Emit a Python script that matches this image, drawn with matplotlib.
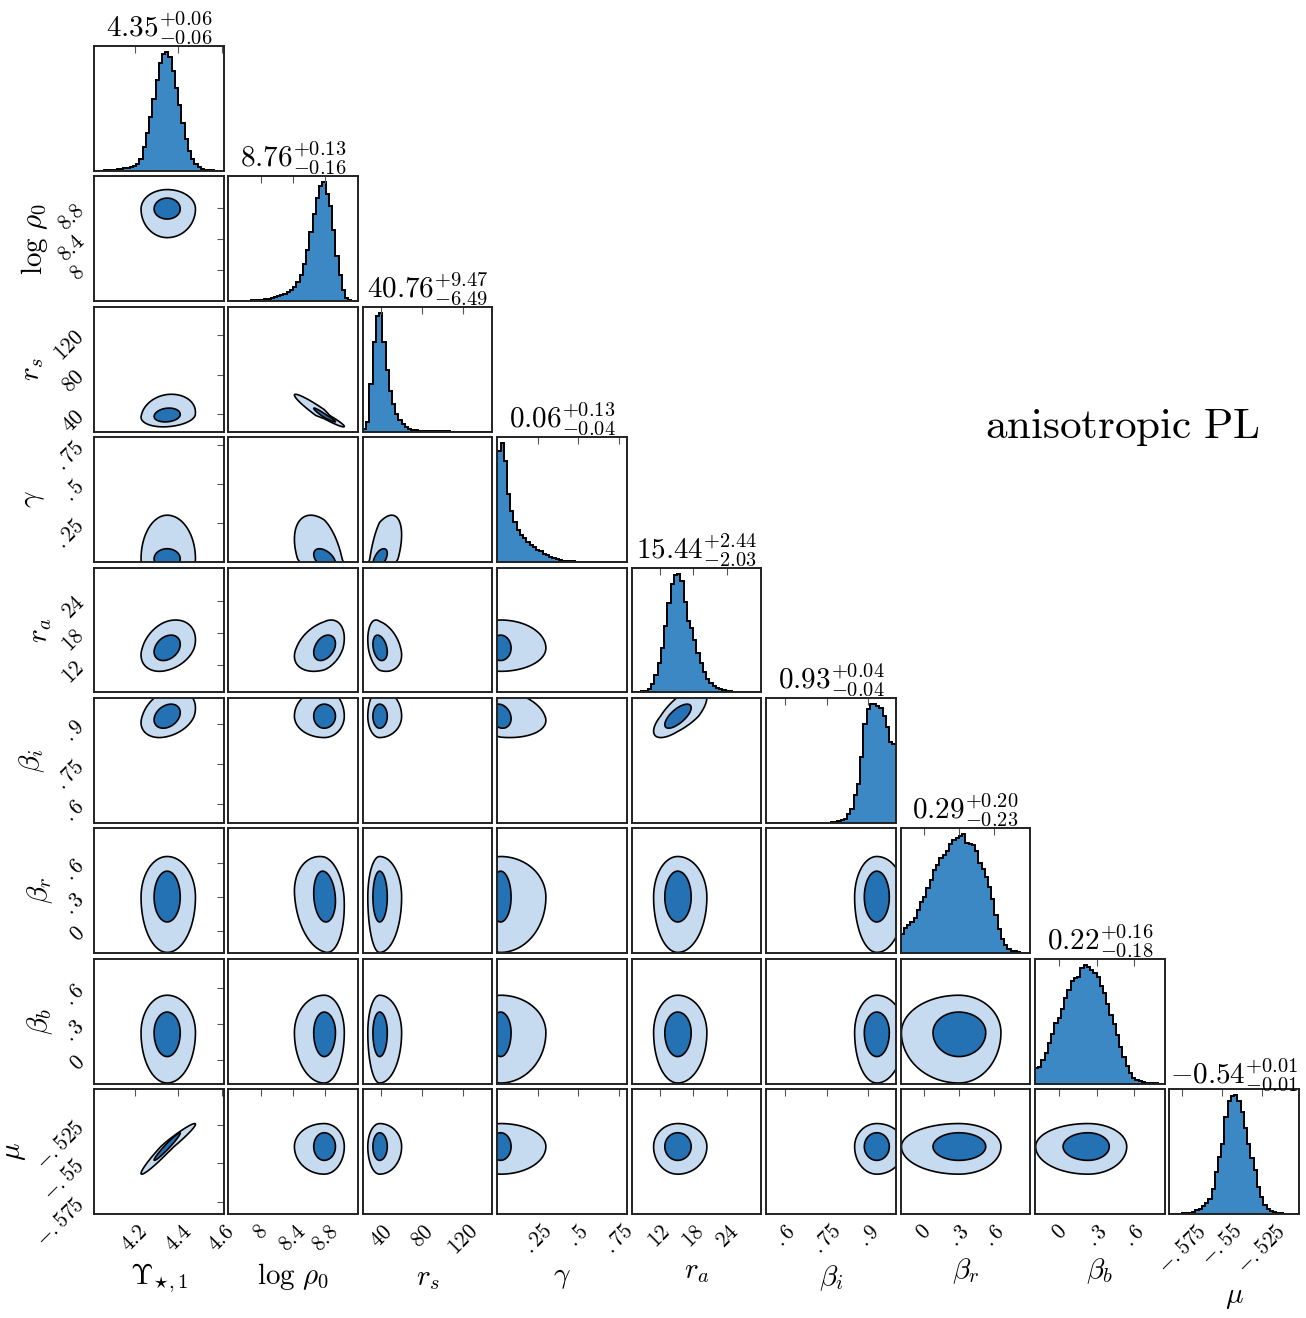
import numpy as np
import matplotlib
matplotlib.use('Agg')
import matplotlib.pyplot as plt

plt.rcParams['mathtext.fontset'] = 'cm'

# parameter labels, medians and errors (from the titles)
labels = [r'$\Upsilon_{\star,1}$', r'$\log\,\rho_0$', r'$r_s$', r'$\gamma$', r'$r_a$',
          r'$\beta_i$', r'$\beta_r$', r'$\beta_b$', r'$\mu$']
medians = [4.35, 8.76, 40.76, 0.06, 15.44, 0.93, 0.29, 0.22, -0.54]
err_hi = [0.06, 0.13, 9.47, 0.13, 2.44, 0.04, 0.20, 0.16, 0.01]
err_lo = [0.06, 0.16, 6.49, 0.04, 2.03, 0.04, 0.23, 0.18, 0.01]

# axis ranges and ticks
ranges = [(4.014, 4.609), (7.6, 9.21), (22.2, 148.6), (0.0, 0.80), (7.0, 30.1),
          (0.531, 0.998), (-0.197, 0.909), (-0.195, 0.843), (-0.583, -0.5016)]
ticks = [[4.2, 4.4, 4.6], [8, 8.4, 8.8], [40, 80, 120], [.25, .5, .75], [12, 18, 24],
         [.6, .75, .9], [0, .3, .6], [0, .3, .6], [-.575, -.55, -.525]]
tick_labels = [['4.2', '4.4', '4.6'], ['8', '8.4', '8.8'], ['40', '80', '120'],
               ['.25', '.5', '.75'], ['12', '18', '24'], ['.6', '.75', '.9'],
               ['0', '.3', '.6'], ['0', '.3', '.6'], ['-.575', '-.55', '-.525']]

# marginal histograms (40 bins over each range, normalised to peak)
hist_ups = [0, 0, .002, .004, .006, .008, .01, .013, .016, .02, .025, .03, .04, .06, .10, .20,
            .32, .45, .60, .76, .91, .98, 1.0, .96, .84, .70, .55, .40, .27, .17, .10, .06,
            .03, .018, .01, .006, .004, .002, .001, 0]
hist_rho0 = [0, .002, .002, .002, .002, .002, .004, .006, .008, .01, .013, .018, .022, .028,
             .035, .042, .05, .06, .075, .095, .12, .16, .22, .31, .43, .58, .73, .87, .97,
             1.0, .90, .80, .60, .38, .22, .09, .03, .01, .003, 0]
hist_rs = [.02, .08, .40, .75, .97, 1.0, .75, .52, .34, .23, .15, .10, .065, .04, .025, .017,
           .012, .008, .006, .004, .002, .002, .002, .002, .002, .001, .001, 0, 0, 0, 0, 0,
           0, 0, 0, 0, 0, 0, 0, 0]
hist_gamma = [.93, 1.0, .85, .57, .43, .34, .27, .23, .20, .17, .145, .125, .105, .09, .07,
              .055, .04, .03, .022, .016, .012, .009, .007, .005, .004, .003, .002, .002,
              .002, .002, .002, .001, .001, .001, 0, 0, 0, 0, 0, 0]
hist_ra = [0, .002, .004, .008, .015, .03, .07, .15, .25, .37, .56, .75, .91, .99, 1.0, .94,
           .76, .60, .54, .44, .33, .25, .17, .11, .075, .05, .035, .025, .016, .011, .008,
           .005, .004, .003, .002, .002, .002, 0, 0, 0]
hist_bi = [0, 0, 0, 0, 0, 0, 0, 0, 0, 0, 0, 0, 0, 0, 0, 0, 0, 0, .001, .002, .004, .007,
           .012, .02, .035, .07, .12, .23, .33, .55, .83, .96, 1.0, 1.0, .98, .97, .90, .81,
           .68, .66]
hist_br = [.165, .21, .24, .265, .30, .36, .43, .47, .55, .62, .70, .74, .80, .83, .86, .92,
           .95, .97, .99, 1.0, .93, .92, .91, .86, .76, .71, .64, .56, .46, .32, .20, .12,
           .065, .035, .02, .015, .008, .004, .002, .001]
hist_bb = [.13, .14, .20, .26, .34, .42, .51, .55, .63, .72, .79, .86, .89, .90, .97, 1.0,
           .98, .96, .93, .90, .82, .76, .67, .58, .50, .41, .31, .22, .15, .09, .05, .03,
           .018, .01, .006, .004, .002, .001, 0, 0]
hist_mu = [0, .001, .002, .003, .005, .008, .012, .02, .03, .045, .065, .09, .13, .21, .35,
           .48, .59, .82, .95, .99, 1.0, .95, .86, .72, .59, .47, .37, .23, .14, .08, .045,
           .025, .015, .009, .006, .004, .002, .001, .001, .001]
hists = [hist_ups, hist_rho0, hist_rs, hist_gamma, hist_ra, hist_bi, hist_br, hist_bb, hist_mu]

# 2D contours: centre and extent of inner / outer contour for each parameter
centres = [4.35, 8.79, 38.5, 0.02, 15.2, 0.93, 0.30, 0.23, -0.539]
inner_lo = [4.29, 8.66, 32.0, -0.04, 12.9, 0.885, 0.08, 0.03, -0.548]
inner_hi = [4.41, 8.93, 46.0, 0.085, 17.6, 0.975, 0.53, 0.40, -0.530]
outer_lo = [4.23, 8.42, 27.0, -0.12, 10.9, 0.85, -0.19, -0.19, -0.557]
outer_hi = [4.48, 9.04, 60.0, 0.30, 20.4, 1.03, 0.66, 0.54, -0.524]
# correlations between parameter pairs (others ~0)
pair_corr = [(0, 2, 0.15), (1, 2, -0.96), (1, 3, -0.45), (2, 3, 0.55), (0, 4, 0.3),
             (1, 4, 0.35), (2, 4, -0.3), (0, 5, 0.3), (3, 5, -0.2), (4, 5, 0.7),
             (1, 6, -0.15), (0, 8, 0.97)]
corr = {(a, b): r for a, b, r in pair_corr}

hist_color = '#3b88c4'
inner_color = '#2471b4'
outer_color = '#c6dbef'
spine_color = '#222222'
tick_color = '#555555'

n = len(labels)
fig, axes = plt.subplots(n, n, figsize=(13.06, 13.18), dpi=100)
fig.subplots_adjust(left=0.072, right=0.9946, bottom=0.0789, top=0.9651,
                    wspace=0.038, hspace=0.045)


def contour_path(i, j, lo, hi):
    t = np.linspace(0, 2 * np.pi, 240)
    r = corr.get((i, j), 0.0)
    u = np.cos(t)
    v = r * np.cos(t) + np.sqrt(1 - r ** 2) * np.sin(t)
    cx, cy = centres[i], centres[j]
    x = np.where(u >= 0, cx + u * (hi[i] - cx), cx + u * (cx - lo[i]))
    y = np.where(v >= 0, cy + v * (hi[j] - cy), cy + v * (cy - lo[j]))
    return x, y


for row in range(n):
    for col in range(n):
        ax = axes[row, col]
        if col > row:
            ax.set_visible(False)
            continue
        for s in ax.spines.values():
            s.set_color(spine_color)
            s.set_linewidth(1.4)
        ax.set_xlim(ranges[col])
        if col == row:
            edges = np.linspace(ranges[col][0], ranges[col][1], len(hists[col]) + 1)
            ax.stairs(hists[col], edges, fill=True, color=hist_color, lw=0)
            ax.stairs(hists[col], edges, color='black', lw=1.4)
            ax.set_ylim(0, 1.05)
            ax.set_yticks([])
            title = r'$%.2f^{+%.2f}_{-%.2f}$' % (medians[col], err_hi[col], err_lo[col])
            ax.set_title(title, fontsize=21, pad=4)
        else:
            ax.set_ylim(ranges[row])
            xo, yo = contour_path(col, row, outer_lo, outer_hi)
            ax.fill(xo, yo, facecolor=outer_color, edgecolor='black', lw=1.2)
            xi, yi = contour_path(col, row, inner_lo, inner_hi)
            ax.fill(xi, yi, facecolor=inner_color, edgecolor='black', lw=1.2)
            if col == 0:
                ax.set_yticks(ticks[row])
                ax.set_yticklabels(['$%s$' % s for s in tick_labels[row]],
                                   rotation=45, fontsize=15.5)
                ax.tick_params(axis='y', direction='in', left=False, right=True,
                               labelleft=True, length=5, color=tick_color, pad=4)
                ax.set_ylabel(labels[row], fontsize=21, labelpad=3)
            else:
                ax.set_yticks([])
        if row == n - 1 or col == row:
            ax.set_xticks(ticks[col])
            ax.set_xticklabels(['$%s$' % s for s in tick_labels[col]],
                               rotation=45, fontsize=15.5)
            ax.tick_params(axis='x', direction='in', bottom=False, top=True,
                           labelbottom=(row == n - 1), length=5, color=tick_color, pad=5)
            if row == n - 1:
                ax.set_xlabel(labels[col], fontsize=21, labelpad=4)
        else:
            ax.set_xticks([])

fig.text(1122 / 1306, 1 - 438 / 1318, r'$\mathrm{anisotropic\ PL}$', fontsize=31,
         ha='center', va='baseline')

fig.savefig('out.png', dpi=100)
